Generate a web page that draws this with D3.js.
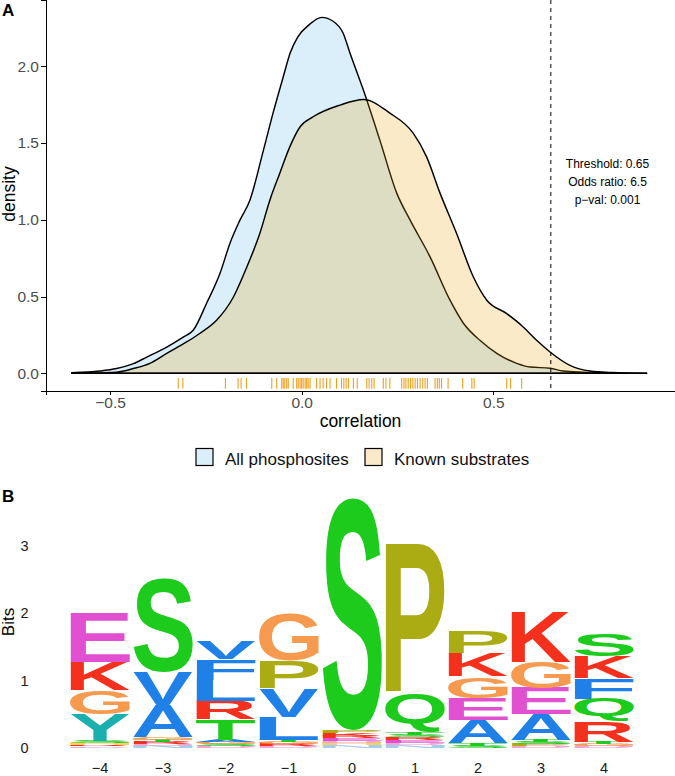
<!DOCTYPE html>
<html>
<script src="https://d3js.org/d3.v7.min.js"></script>
<head>
    <title>Density and logo</title>
    <meta charset="UTF-8">
    <style type="text/css">
        body { margin: 0; background: #fff; }
        svg { font-family: "Liberation Sans", Arial, Helvetica, sans-serif; display: block; }
        .axis path, .axis line { stroke: #000; stroke-width: 1; shape-rendering: crispEdges; }
        .axis text { fill: #4d4d4d; font-size: 15.5px; }
    </style>
</head>
<body>
<script type="text/javascript">
// panel A: density curves
var allX = [-0.6, -0.526, -0.483, -0.439, -0.404, -0.352, -0.309, -0.283, -0.248, -0.213, -0.187, -0.161,
    -0.135, -0.1, -0.074, -0.048, -0.03, -0.01, 0.02, 0.052, 0.083, 0.108, 0.126, 0.161, 0.204,
    0.248, 0.283, 0.335, 0.387, 0.422, 0.465, 0.509, 0.561, 0.596, 0.648, 0.682, 0.734, 0.8, 0.9];
var allDensity = [0.004, 0.015, 0.031, 0.063, 0.106, 0.171, 0.236, 0.28, 0.456, 0.651, 0.847, 0.997,
    1.127, 1.45, 1.7, 1.93, 2.085, 2.19, 2.27, 2.317, 2.29, 2.215, 2.085, 1.844, 1.518,
    1.173, 0.997, 0.758, 0.476, 0.326, 0.215, 0.13, 0.065, 0.041, 0.033, 0.015, 0.007, 0.002, 0];
var knownX = [-0.6, -0.57, -0.483, -0.439, -0.396, -0.352, -0.3, -0.265, -0.222, -0.178, -0.143, -0.109,
    -0.083, -0.057, -0.031, -0.004, 0.03, 0.1, 0.161, 0.23, 0.291, 0.326, 0.361, 0.404, 0.448, 0.483,
    0.535, 0.578, 0.613, 0.648, 0.7, 0.752, 0.812, 0.9];
var knownDensity = [0.001, 0.002, 0.008, 0.031, 0.065, 0.13, 0.204, 0.261, 0.345, 0.497, 0.692, 0.912,
    1.127, 1.303, 1.474, 1.605, 1.67, 1.746, 1.783, 1.694, 1.563, 1.409, 1.173, 0.912, 0.627, 0.476,
    0.389, 0.302, 0.215, 0.139, 0.052, 0.015, 0.005, 0];
var rugValues = [-0.322, -0.31, -0.199, -0.166, -0.158, -0.144, -0.078, -0.065, -0.052, -0.048, -0.044,
    -0.039, -0.035, -0.022, -0.013, -0.009, -0.004, 0, 0.004, 0.009, 0.013, 0.017, 0.022, 0.039, 0.048,
    0.056, 0.065, 0.074, 0.091, 0.104, 0.11, 0.116, 0.122, 0.135, 0.145, 0.17, 0.176, 0.183, 0.189,
    0.213, 0.22, 0.23, 0.261, 0.267, 0.272, 0.278, 0.284, 0.29, 0.296, 0.302, 0.309, 0.316, 0.322,
    0.328, 0.348, 0.354, 0.359, 0.365, 0.382, 0.42, 0.444, 0.45, 0.535, 0.545, 0.574];
var densityTicks = [0, 0.5, 1, 1.5, 2];
var corrTicks = [-0.5, 0, 0.5];
var threshold = 0.65;
var annotation = ["Threshold: 0.65", "Odds ratio: 6.5", "p\u2212val: 0.001"];
var groups = ["All phosphosites", "Known substrates"];
var groupColors = ["#56B4E9", "#E69F00"];

// panel B: sequence logo, letters bottom to top with heights in bits
var logoPos = [-4, -3, -2, -1, 0, 1, 2, 3, 4];
var logoStacks = [
    [["D", 0.025], ["R", 0.025], ["H", 0.028], ["S", 0.03], ["Y", 0.395], ["G", 0.356], ["K", 0.415], ["E", 0.726]],
    [["N", 0.03], ["D", 0.035], ["R", 0.03], ["T", 0.03], ["G", 0.038], ["A", 0.474], ["V", 0.489], ["S", 1.393]],
    [["D", 0.03], ["S", 0.03], ["G", 0.03], ["A", 0.029], ["T", 0.304], ["R", 0.274], ["L", 0.311], ["F", 0.311], ["V", 0.267]],
    [["D", 0.03], ["R", 0.03], ["G", 0.03], ["T", 0.029], ["L", 0.341], ["V", 0.422], ["P", 0.407], ["G", 0.711]],
    [["N", 0.04], ["H", 0.03], ["D", 0.04], ["E", 0.035], ["R", 0.04], ["K", 0.04], ["P", 0.042], ["S", 3.437]],
    [["N", 0.04], ["D", 0.04], ["E", 0.04], ["R", 0.04], ["S", 0.037], ["T", 0.04], ["Q", 0.578], ["P", 2.222]],
    [["S", 0.03], ["T", 0.037], ["A", 0.348], ["E", 0.326], ["G", 0.319], ["K", 0.341], ["P", 0.319]],
    [["D", 0.03], ["P", 0.03], ["S", 0.03], ["T", 0.029], ["A", 0.378], ["E", 0.393], ["G", 0.385], ["K", 0.756]],
    [["D", 0.03], ["G", 0.03], ["T", 0.029], ["R", 0.304], ["Q", 0.333], ["F", 0.311], ["K", 0.326], ["S", 0.326]]
];
var bitsTicks = [0, 1, 2, 3];
var letterColors = {
    E: "#E250D2", K: "#F5311E", R: "#F5311E", G: "#F69A50", Y: "#1AB0B0",
    S: "#1DCB1D", T: "#1DCB1D", Q: "#1DCB1D", V: "#1F80E8", A: "#1F80E8",
    F: "#1F80E8", L: "#1F80E8", P: "#ABAB14", D: "#F2A6CC", N: "#A6CCF2", H: "#EED460"
};

var W = 675, H = 776;
var svg = d3.select("body").append("svg")
    .attr("width", W)
    .attr("height", H);

// ---------- panel A ----------
var x = d3.scaleLinear().domain([-0.667, 0.974]).range([46, 675]);
var y = d3.scaleLinear().domain([-0.115, 2.43]).range([391, 0]);

var area = d3.area()
    .x(function (d) { return x(d[0]); })
    .y0(y(0))
    .y1(function (d) { return y(d[1]); })
    .curve(d3.curveMonotoneX);

var series = [d3.zip(allX, allDensity), d3.zip(knownX, knownDensity)];
series.forEach(function (s, i) {
    svg.append("path")
        .attr("d", area(s) + "Z")
        .attr("fill", groupColors[i])
        .attr("fill-opacity", 0.22)
        .attr("stroke", "#000")
        .attr("stroke-width", 1.45)
        .attr("stroke-linejoin", "round");
});

svg.append("g")
    .selectAll("line")
    .data(rugValues)
    .enter().append("line")
    .attr("x1", function (d) { return x(d); })
    .attr("x2", function (d) { return x(d); })
    .attr("y1", y(-0.03))
    .attr("y2", y(-0.1))
    .attr("stroke", "#F0A020")
    .attr("stroke-width", 1.1);

svg.append("line")
    .attr("x1", x(threshold)).attr("x2", x(threshold))
    .attr("y1", 0).attr("y2", 391)
    .attr("stroke", "#000")
    .attr("stroke-width", 1)
    .attr("stroke-dasharray", "4,4");

svg.append("g")
    .attr("font-size", "12px")
    .attr("fill", "#000")
    .selectAll("text")
    .data(annotation)
    .enter().append("text")
    .attr("x", 607.5)
    .attr("y", function (d, i) { return 168 + i * 18; })
    .attr("text-anchor", "middle")
    .text(function (d) { return d; });

svg.append("g")
    .attr("class", "axis")
    .attr("transform", "translate(46,0)")
    .call(d3.axisLeft(y).tickValues(densityTicks).tickFormat(d3.format(".1f"))
        .tickSizeOuter(0).tickSize(5).tickPadding(2));

svg.append("g")
    .attr("class", "axis")
    .attr("transform", "translate(0,391)")
    .call(d3.axisBottom(x).tickValues(corrTicks).tickFormat(d3.format(".1f"))
        .tickSizeOuter(0).tickSize(4).tickPadding(2));

svg.append("text")
    .attr("x", 360.5).attr("y", 427)
    .attr("text-anchor", "middle")
    .attr("font-size", "17.5px")
    .text("correlation");

svg.append("text")
    .attr("transform", "translate(15,194) rotate(-90)")
    .attr("text-anchor", "middle")
    .attr("font-size", "17.5px")
    .text("density");

svg.append("text")
    .attr("x", 2).attr("y", 16)
    .attr("font-size", "17px")
    .attr("font-weight", "bold")
    .text("A");

// legend
var legendX = [196, 365];
groups.forEach(function (g, i) {
    svg.append("rect")
        .attr("x", legendX[i]).attr("y", 448.5)
        .attr("width", 17).attr("height", 17)
        .attr("fill", groupColors[i])
        .attr("fill-opacity", 0.22)
        .attr("stroke", "#000")
        .attr("stroke-width", 1.2);
    svg.append("text")
        .attr("x", legendX[i] + 29).attr("y", 464.5)
        .attr("font-size", "17px")
        .attr("fill", "#111")
        .text(g);
});

// ---------- panel B ----------
var xb = d3.scaleBand().domain(logoPos).range([68.5, 635.5]).paddingInner(0.05).paddingOuter(0.025);
var yb = d3.scaleLinear().domain([0, 3]).range([748, 545.5]);

var ctx = document.createElement("canvas").getContext("2d");
ctx.font = "bold 100px 'Liberation Sans'";
var boundsCache = {};
function glyphBounds(ch) {
    if (!boundsCache[ch]) {
        var m = ctx.measureText(ch);
        boundsCache[ch] = {
            left: -m.actualBoundingBoxLeft, right: m.actualBoundingBoxRight,
            top: -m.actualBoundingBoxAscent, bottom: m.actualBoundingBoxDescent
        };
    }
    return boundsCache[ch];
}

var logo = svg.append("g");
logoStacks.forEach(function (stack, i) {
    var base = 0;
    var bx = xb(logoPos[i]), bw = xb.bandwidth();
    stack.forEach(function (l) {
        var top = yb(base + l[1]), bottom = yb(base);
        base += l[1];
        var b = glyphBounds(l[0]);
        var sx = bw / (b.right - b.left), sy = (bottom - top) / (b.bottom - b.top);
        logo.append("text")
            .attr("font-family", "'Liberation Sans', Arial, sans-serif")
            .attr("font-weight", "bold")
            .attr("font-size", 100)
            .attr("fill", letterColors[l[0]])
            .attr("transform", "translate(" + (bx - b.left * sx) + "," + (top - b.top * sy) + ") scale(" + sx + "," + sy + ")")
            .text(l[0]);
    });
});

svg.append("g")
    .attr("font-size", "14.5px")
    .attr("fill", "#1a1a1a")
    .selectAll("text")
    .data(bitsTicks)
    .enter().append("text")
    .attr("x", 28.5)
    .attr("y", function (d) { return yb(d); })
    .attr("dy", "0.36em")
    .attr("text-anchor", "end")
    .text(function (d) { return d; });

svg.append("g")
    .attr("font-size", "14.5px")
    .attr("fill", "#1a1a1a")
    .selectAll("text")
    .data(logoPos)
    .enter().append("text")
    .attr("x", function (d) { return xb(d) + xb.bandwidth() / 2; })
    .attr("y", 773)
    .attr("text-anchor", "middle")
    .text(function (d) { return d3.format("d")(d); });

svg.append("text")
    .attr("transform", "translate(14,622) rotate(-90)")
    .attr("text-anchor", "middle")
    .attr("font-size", "17px")
    .text("Bits");

svg.append("text")
    .attr("x", 2).attr("y", 502)
    .attr("font-size", "17px")
    .attr("font-weight", "bold")
    .text("B");
</script>
</body>
</html>
